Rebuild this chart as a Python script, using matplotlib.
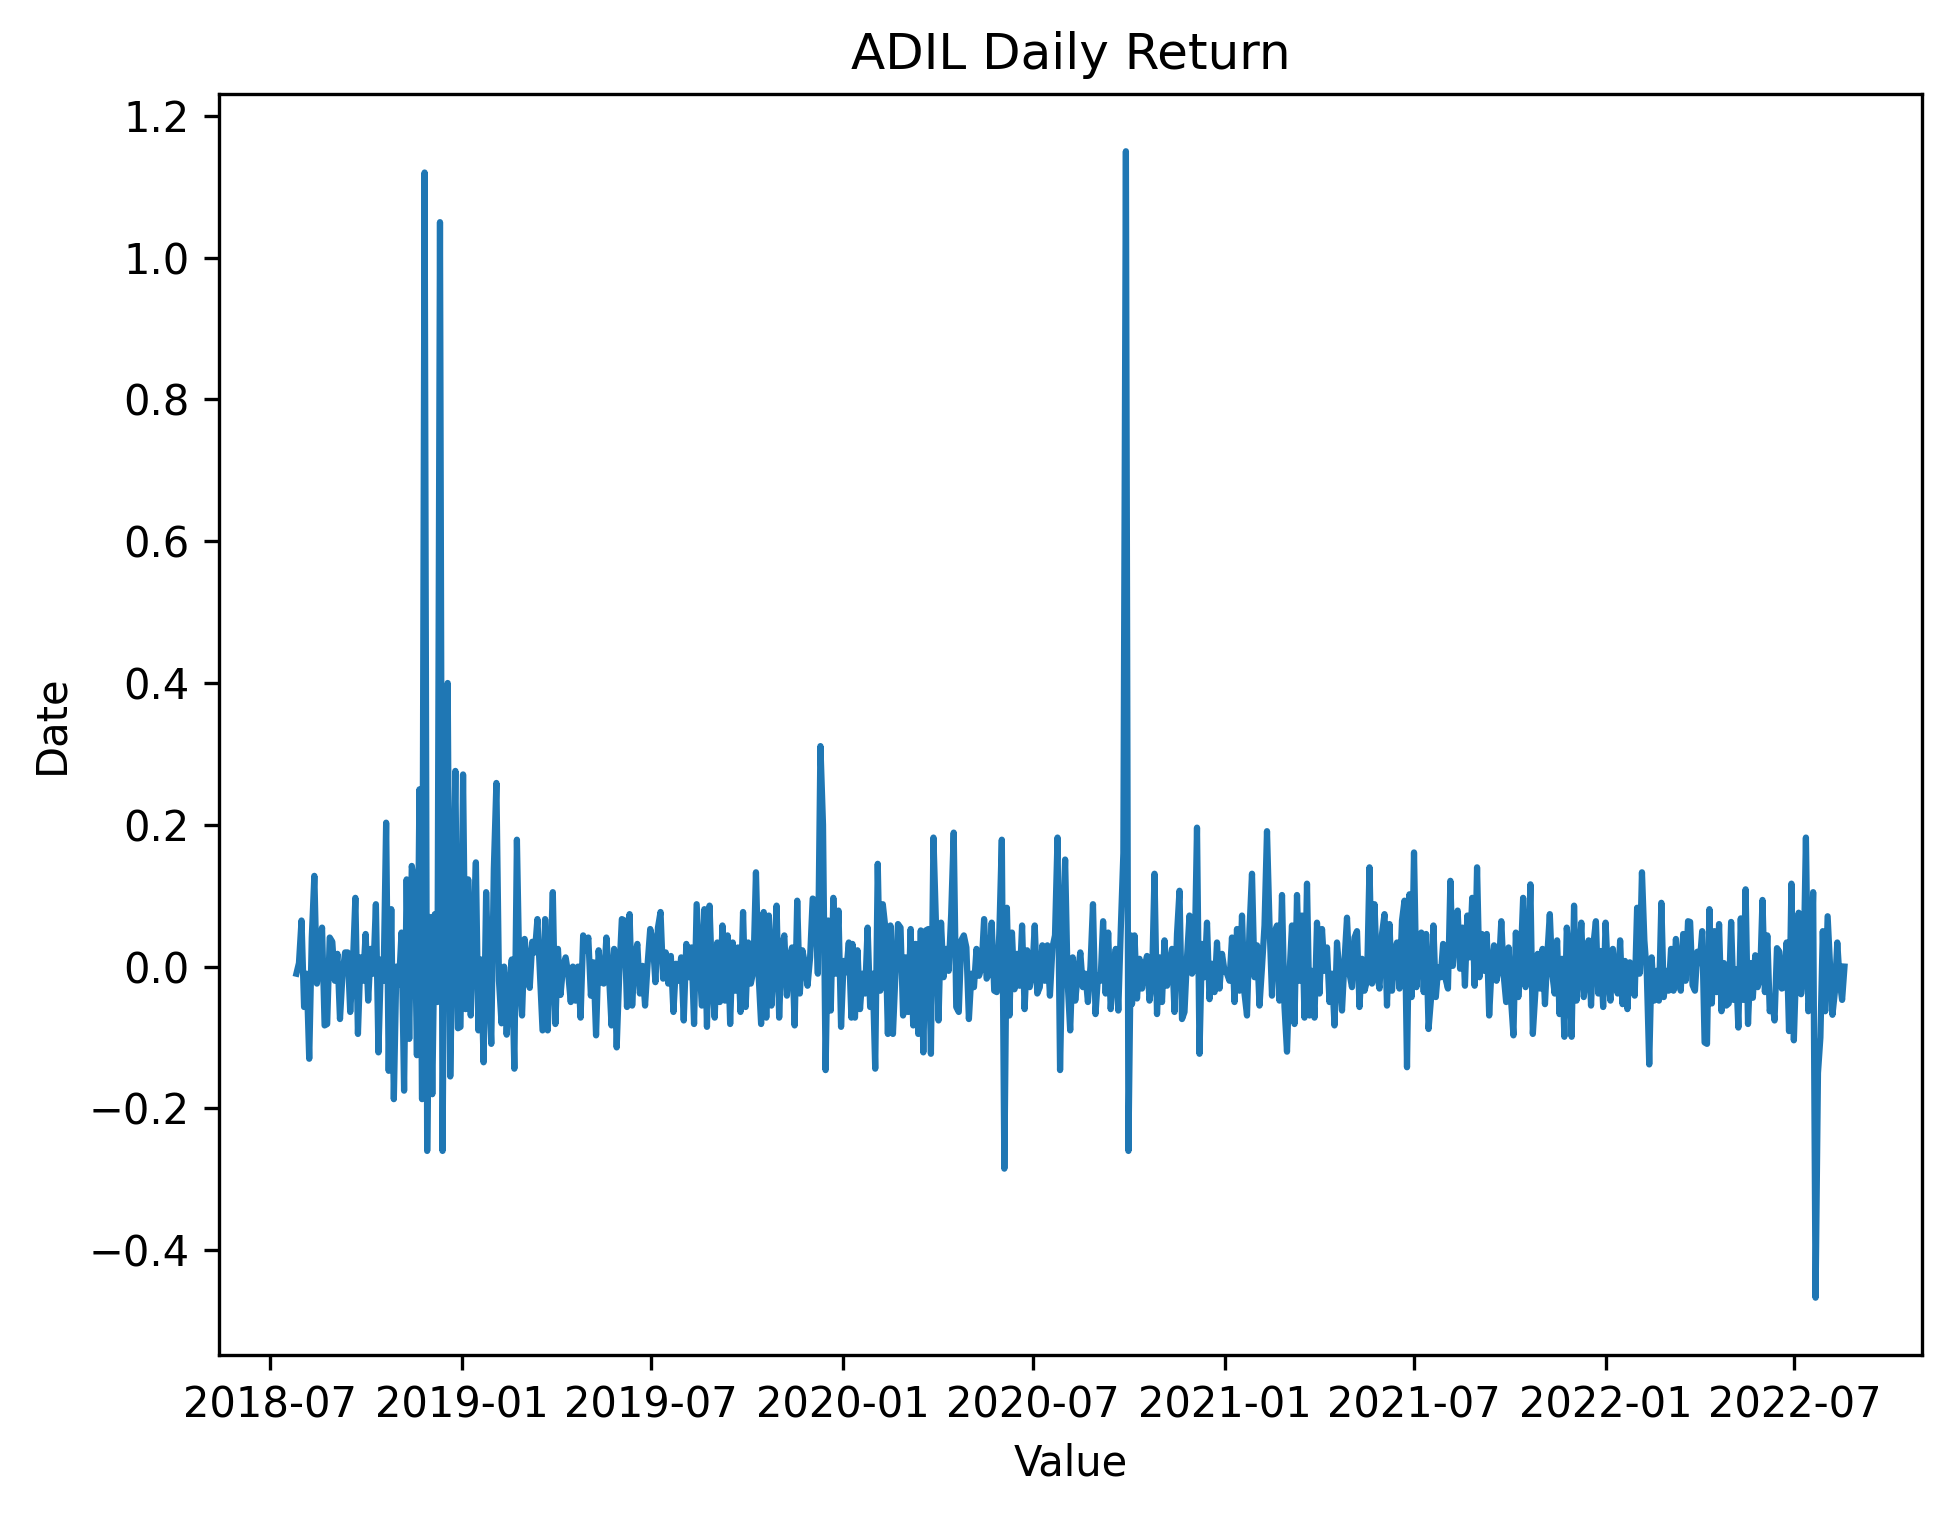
import numpy as np
import pandas as pd
import matplotlib
matplotlib.use("Agg")
import matplotlib.pyplot as plt
import matplotlib.dates as mdates

# daily return of ADIL in 6 stretches
seg1_span = ("2018-07-26", "2019-04-15")
seg1 = [-0.01, 0.005, 0.065, -0.057, -0.01, -0.13, 0.041, 0.128, -0.024, 0.01, 0.055, -0.083, -0.081,
        0.041, 0.035, -0.02, 0.018, -0.074, -0.01, 0.02, 0.02, -0.064, 0.0, 0.097, -0.095, 0.013, -0.02, 0.046,
        -0.048, 0.025, -0.01, 0.088, -0.121, 0.01, -0.02, 0.203, -0.147, 0.081, -0.187, 0.0, -0.025, 0.048, -0.175,
        0.123, -0.102, 0.142, 0.12, -0.125, 0.25, -0.187, 1.12, -0.26, 0.07, -0.18, 0.074, -0.05, 1.05, -0.26, 0.24,
        0.40, -0.155, 0.05, 0.276, -0.087, -0.085, 0.271, -0.06, 0.123, -0.069, 0.05, 0.147, -0.09, 0.01, -0.135,
        0.105, -0.02, -0.109, 0.138, 0.259, -0.02, -0.08, 0.0, -0.096, -0.03, 0.01, -0.144, 0.179, -0.02, -0.069,
        0.039, 0.006, -0.03, 0.035, 0.02, 0.067, -0.01, -0.09, 0.067, -0.09, 0.0, 0.105, -0.081, 0.025, -0.04, 0.0,
        0.013, -0.01, -0.05]

seg2_span = ("2019-04-17", "2020-01-09")
seg2 = [0.0, -0.048, 0.0, -0.072, 0.044, 0.023, 0.041, -0.041, 0.006, -0.097, 0.023, -0.022, -0.024, 0.041, -0.01,
        -0.083, 0.025, -0.114, -0.01, 0.067, 0.065, -0.057, 0.074, -0.055, 0.013, 0.032, -0.038, 0.001, -0.055,
        0.004, 0.053, 0.037, -0.022, 0.055, 0.077, -0.017, 0.02, -0.024, 0.015, -0.064, 0.004, -0.02, 0.013, -0.076,
        0.032, -0.015, 0.027, -0.081, 0.088, 0.018, -0.055, 0.081, -0.085, 0.086, -0.02, -0.072, 0.034, -0.05,
        0.058, -0.048, 0.044, -0.081, 0.034, -0.034, 0.027, -0.064, 0.077, -0.057, 0.034, -0.024, -0.006, 0.133,
        -0.01, -0.081, 0.077, -0.072, 0.072, -0.055, 0.004, 0.086, -0.072, 0.027, 0.044, -0.041, 0.013, 0.027,
        -0.083, 0.093, -0.038, 0.023, 0.004, -0.027, 0.013, 0.096, 0.093, -0.01, 0.311, 0.2, -0.146, 0.065, -0.062,
        0.097, -0.01, 0.079, -0.085, 0.008, -0.008, 0.034, -0.072]

seg3_span = ("2020-01-10", "2020-10-03")
seg3 = [0.032, -0.072, 0.023, -0.06, -0.01, -0.038, 0.055, -0.057, -0.01, -0.144, 0.145, -0.034, 0.088, 0.055,
        -0.095, 0.058, -0.095, -0.01, 0.06, 0.055, -0.069, 0.013, -0.064, 0.053, -0.083, 0.032, -0.095, 0.051,
        -0.121, 0.051, 0.053, -0.123, 0.182, 0.06, -0.076, 0.062, -0.015, 0.025, -0.006, 0.074, 0.189, -0.057,
        -0.064, 0.037, 0.044, 0.027, -0.074, -0.01, -0.029, 0.025, -0.013, -0.001, 0.067, -0.017, -0.01, 0.062,
        -0.034, -0.036, 0.046, 0.179, -0.285, 0.083, -0.069, 0.048, -0.032, 0.018, -0.027, 0.058, -0.06, 0.023,
        -0.029, -0.01, 0.058, -0.038, -0.029, 0.03, -0.02, 0.03, -0.041, 0.027, 0.044, 0.182, -0.146, 0.037, 0.151,
        -0.022, -0.09, 0.013, -0.048, -0.01, 0.02, -0.029, -0.01, -0.05, 0.0, 0.088, -0.067, -0.012, -0.02, 0.064,
        -0.038, 0.048, -0.06, -0.006, 0.025, -0.062, 0.055, 0.16, 1.15, -0.26, 0.044]

seg4_span = ("2020-10-04", "2021-06-27")
seg4 = [-0.053, 0.044, -0.045, 0.011, -0.031, -0.001, 0.015, -0.048, -0.02, 0.131, -0.067, 0.013, -0.05, 0.037,
        -0.027, -0.001, 0.025, -0.064, 0.046, 0.107, -0.074, -0.064, 0.013, 0.072, -0.01, -0.001, 0.196, -0.123,
        0.032, -0.015, 0.062, -0.046, 0.004, -0.036, 0.034, -0.031, 0.018, -0.006, -0.01, -0.02, 0.041, -0.05,
        0.053, -0.034, 0.072, -0.038, -0.069, 0.053, 0.131, -0.015, 0.03, -0.055, -0.001, 0.058, 0.191, 0.06,
        -0.041, 0.048, 0.058, -0.048, 0.101, -0.057, -0.12, -0.01, 0.058, -0.081, 0.101, -0.02, 0.072, -0.072,
        0.117, -0.069, -0.006, -0.072, 0.062, -0.038, 0.053, -0.006, 0.027, -0.05, -0.01, -0.083, 0.034, -0.01,
        -0.062, 0.008, 0.069, -0.01, -0.029, 0.041, 0.05, -0.057, 0.011, -0.034, -0.02, 0.14, -0.024, 0.088, -0.01,
        -0.031, 0.046, 0.074, -0.055, 0.06, -0.034, 0.018, 0.034, -0.031, 0.065, 0.093, -0.142, 0.102]

seg5_span = ("2021-06-29", "2022-03-21")
seg5 = [-0.043, 0.161, -0.029, 0.027, 0.048, -0.036, 0.046, -0.088, -0.046, 0.058, -0.043, -0.001, -0.015, 0.032,
        -0.017, -0.031, 0.121, 0.001, 0.055, 0.079, -0.003, 0.055, -0.027, 0.072, 0.013, 0.097, -0.027, 0.14,
        -0.015, 0.046, -0.006, 0.046, -0.069, -0.001, 0.03, -0.02, -0.001, 0.064, -0.013, -0.05, 0.027, -0.046,
        -0.097, 0.048, -0.043, 0.008, 0.097, -0.029, -0.006, 0.116, -0.095, -0.038, 0.018, -0.031, 0.025, -0.053,
        0.018, 0.074, -0.01, -0.038, 0.037, -0.067, 0.011, -0.099, 0.055, 0.013, -0.099, 0.086, -0.048, 0.001,
        0.062, -0.043, -0.01, 0.037, -0.055, 0.032, 0.064, -0.038, 0.022, -0.057, 0.062, -0.013, -0.048, 0.025,
        -0.02, -0.038, 0.037, -0.053, 0.008, -0.06, 0.006, -0.01, -0.041, 0.083, -0.01, 0.133, 0.037, -0.01,
        -0.138, 0.013, -0.048, -0.006, -0.048, 0.09, -0.043, -0.006, -0.034, 0.025, -0.034, 0.039, -0.01, -0.034,
        0.046, -0.02, 0.064]

seg6_span = ("2022-03-23", "2022-08-18")
seg6 = [0.063, -0.026, -0.034, 0.021, 0.005, 0.05, -0.107, -0.109, 0.081, -0.052, 0.05, -0.036, 0.06, -0.063,
        0.005, -0.055, -0.052, 0.063, -0.047, -0.004, -0.086, 0.068, -0.047, 0.109, -0.081, 0.005, -0.044, 0.016,
        -0.029, -0.016, 0.094, -0.036, 0.044, -0.063, -0.047, -0.076, 0.026, 0.021, -0.031, -0.029, 0.034, -0.091,
        0.117, -0.104, 0.005, 0.076, -0.039, -0.008, 0.182, -0.063, -0.026, 0.105, -0.467, -0.15, -0.1, 0.05,
        -0.063, 0.071, 0.0, -0.068, -0.036, 0.034, -0.02, -0.047, 0.0]

spans = [seg1_span, seg2_span, seg3_span, seg4_span, seg5_span, seg6_span]
segs = [seg1, seg2, seg3, seg4, seg5, seg6]

parts = []
for (start, end), vals in zip(spans, segs):
    idx = pd.date_range(start, end, periods=len(vals))
    parts.append(pd.Series(vals, index=idx))
ret = pd.concat(parts)

fig, ax = plt.subplots(figsize=(6.5, 5.05), dpi=300)
fig.subplots_adjust(left=0.1123, right=0.9856, bottom=0.1056, top=0.938)

ax.plot(ret.index, ret.values, color="#1f77b4", linewidth=1.5)

ax.xaxis.set_major_locator(mdates.MonthLocator(bymonth=[1, 7]))
ax.xaxis.set_major_formatter(mdates.DateFormatter("%Y-%m"))

ax.set_title("ADIL Daily Return")
ax.set_xlabel("Value")
ax.set_ylabel("Date")

fig.savefig("out.png", dpi=300)
